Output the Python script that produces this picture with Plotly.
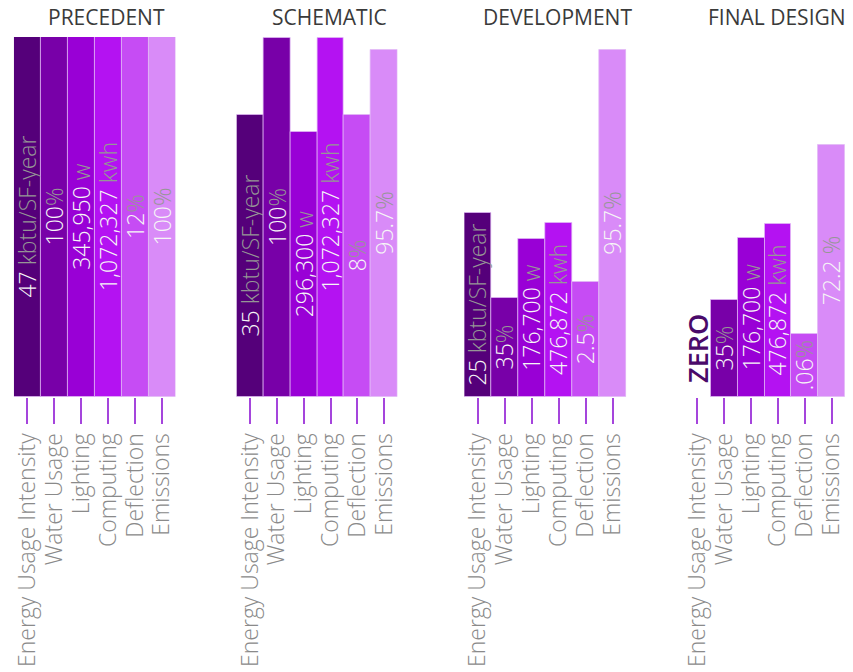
import plotly.graph_objects as go
from plotly.subplots import make_subplots

categories = ["Energy Usage Intensity", "Water Usage", "Lighting", "Computing", "Deflection", "Emissions"]
phases = ["PRECEDENT", "SCHEMATIC", "DEVELOPMENT", "FINAL DESIGN"]

# relative bar heights (precedent = 1)
precedent_heights = [1.0, 1.0, 1.0, 1.0, 1.0, 1.0]
schematic_heights = [0.783, 0.997, 0.736, 0.997, 0.783, 0.963]
development_heights = [0.511, 0.275, 0.439, 0.483, 0.319, 0.963]
final_heights = [0.0, 0.27, 0.442, 0.48, 0.175, 0.70]

precedent_numbers = ["47", "100", "345,950", "1,072,327", "12", "100"]
precedent_units = [" kbtu/SF-year", "%", " w", " kwh", "%", "%"]
schematic_numbers = ["35", "100", "296,300", "1,072,327", "8", "95.7"]
schematic_units = [" kbtu/SF-year", "%", " w", " kwh", "%", "%"]
development_numbers = ["25", "35", "176,700", "476,872", "2.5", "95.7"]
development_units = [" kbtu/SF-year", "%", " w", " kwh", "%", "%"]
final_numbers = ["ZERO", "35", "176,700", "476,872", ".06", "72.2"]
final_units = ["", "%", " w", " kwh", "%", " %"]

bar_colors = ["#55007a", "#7800a8", "#9900d6", "#b412f2", "#c64cf4", "#d98bf8"]

heights = [precedent_heights, schematic_heights, development_heights, final_heights]
numbers = [precedent_numbers, schematic_numbers, development_numbers, final_numbers]
units = [precedent_units, schematic_units, development_units, final_units]

W, H = 853, 672
domains_px = [(10, 172.5), (234, 396), (463, 626), (684, 846)]

fig = make_subplots(rows=1, cols=4)

FONT = "Open Sans"
for i in range(4):
    texts = []
    for n, u, h in zip(numbers[i], units[i], heights[i]):
        if h == 0:
            texts.append("")
        else:
            texts.append('<span style="color:#f6f6f6">' + n + '</span><span style="color:#969696">' + u + '</span>')
    fig.add_trace(go.Bar(
        x=categories, y=heights[i], text=texts, textposition="inside",
        textangle=-90, insidetextanchor="middle", constraintext="none",
        insidetextfont=dict(family=FONT, size=23, weight=300, color="#f6f6f6"),
        marker=dict(color=bar_colors,
                    line=dict(color="rgba(225,185,245,0.7)",
                              width=[0 if h == 0 else 1 for h in heights[i]])),
        cliponaxis=False, showlegend=False, hoverinfo="skip",
    ), row=1, col=i + 1)
    xa = "xaxis" if i == 0 else f"xaxis{i+1}"
    ya = "yaxis" if i == 0 else f"yaxis{i+1}"
    fig.layout[xa].update(
        domain=[domains_px[i][0] / W, domains_px[i][1] / W],
        type="category", range=[-0.5, 5.5], showgrid=False, zeroline=False, showline=False,
        tickmode="array", tickvals=categories, ticktext=categories,
        ticks="outside", ticklen=26, tickwidth=2, tickcolor="#a545dc",
        tickangle=-90, tickfont=dict(family=FONT, size=23, weight=300, color="#8a8a8a"),
    )
    fig.layout[ya].update(range=[0, 1], visible=False, showgrid=False)
    fig.add_annotation(
        text=phases[i], x=0.5, xref=("x domain" if i == 0 else f"x{i+1} domain"),
        y=1, yref="paper", yanchor="middle", yshift=20, xshift=12, showarrow=False,
        font=dict(family=FONT, size=21, color="#3a3a3a"),
    )
    # zero-valued bars get a dark label above the baseline
    for c, n, h in zip(categories, numbers[i], heights[i]):
        if h == 0:
            fig.add_annotation(
                text=n, x=c, y=h, xref=("x" if i == 0 else f"x{i+1}"),
                yref=("y" if i == 0 else f"y{i+1}"), textangle=-90,
                yanchor="bottom", yshift=12, showarrow=False,
                font=dict(family=FONT, size=27, weight=600, color="#4a0a6a"),
            )

fig.update_layout(
    width=W, height=H, bargap=0,
    margin=dict(l=0, r=0, t=37, b=275),
    plot_bgcolor="white", paper_bgcolor="white",
)

fig.write_html("out.html", config={"displayModeBar": False},
               post_script="document.body.style.margin='0';")
